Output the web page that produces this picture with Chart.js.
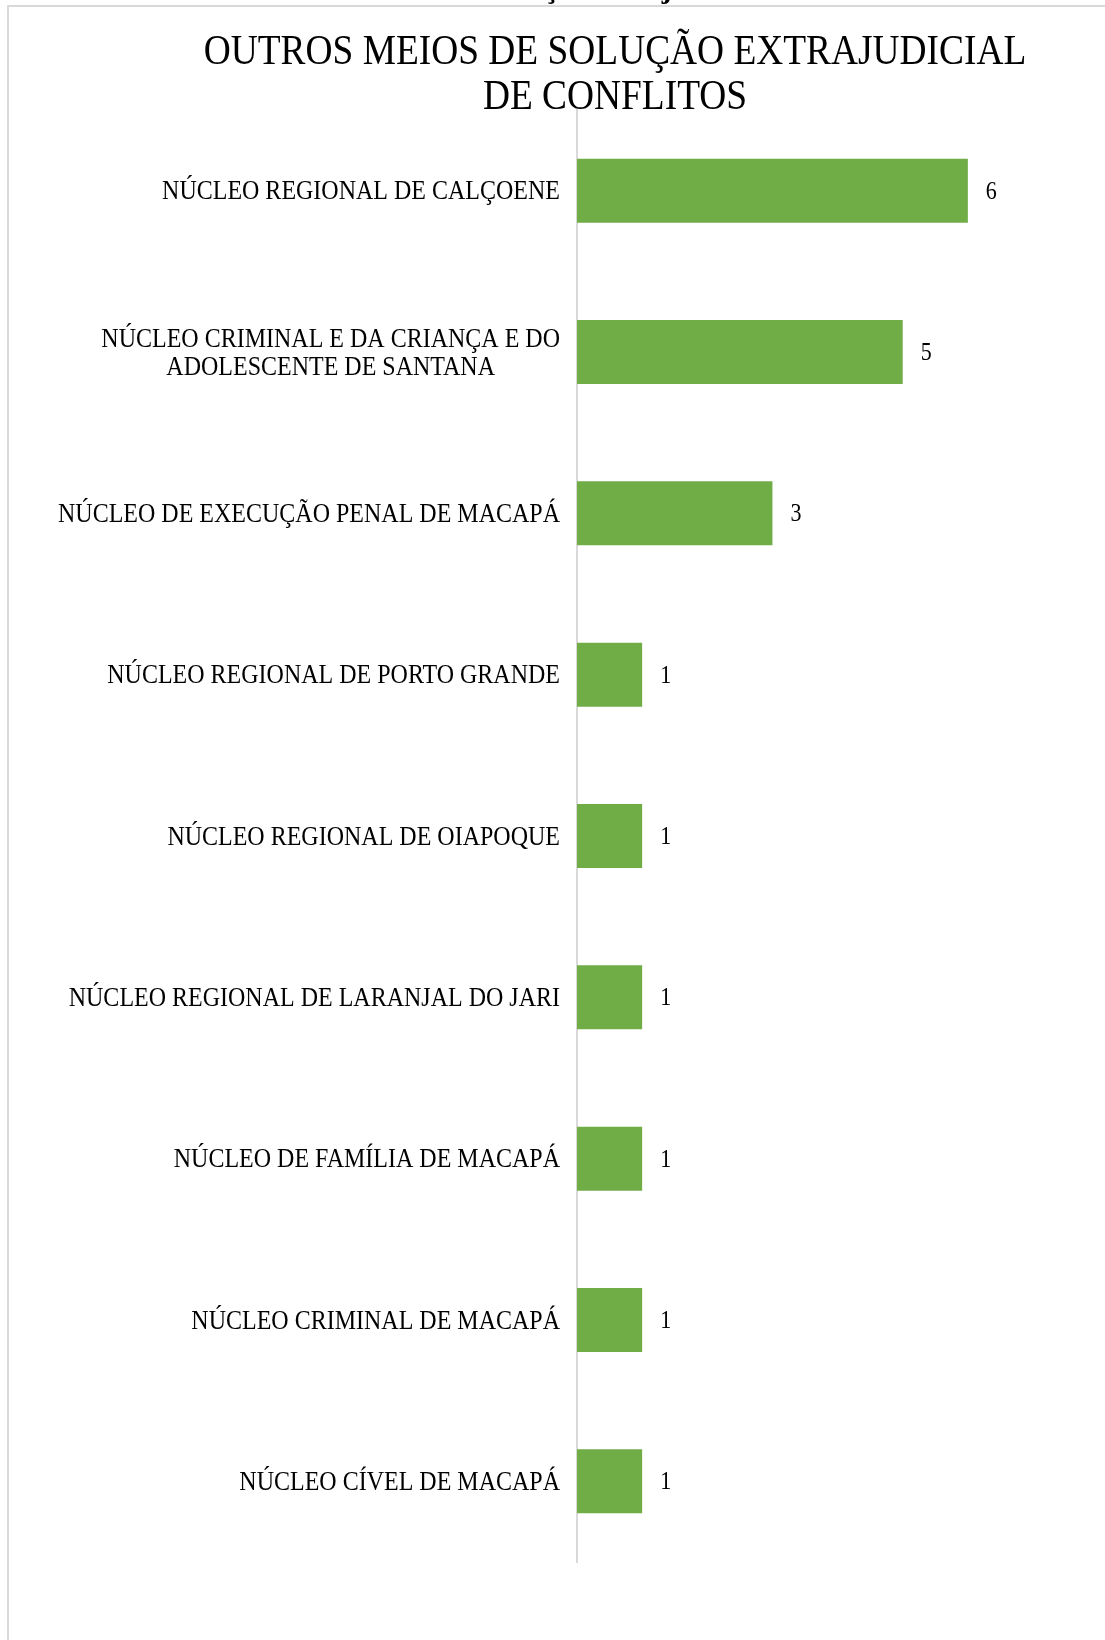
<!DOCTYPE html>
<html>
<head>
<meta charset="utf-8">
<script src="https://cdn.jsdelivr.net/npm/chart.js@4.4.1/dist/chart.umd.min.js"></script>
<style>
  html, body { margin: 0; padding: 0; background: #fff; }
  #wrap { width: 1105px; height: 1640px; }
</style>
</head>
<body>
<div id="wrap"><canvas id="myChart"></canvas></div>
<script>
const titleLines = ['OUTROS MEIOS DE SOLUÇÃO EXTRAJUDICIAL', 'DE CONFLITOS'];
const categories = [
  ['NÚCLEO REGIONAL DE CALÇOENE'],
  ['NÚCLEO CRIMINAL E DA CRIANÇA E DO', 'ADOLESCENTE DE SANTANA'],
  ['NÚCLEO DE EXECUÇÃO PENAL DE MACAPÁ'],
  ['NÚCLEO REGIONAL DE PORTO GRANDE'],
  ['NÚCLEO REGIONAL DE OIAPOQUE'],
  ['NÚCLEO REGIONAL DE LARANJAL DO JARI'],
  ['NÚCLEO DE FAMÍLIA DE MACAPÁ'],
  ['NÚCLEO CRIMINAL DE MACAPÁ'],
  ['NÚCLEO CÍVEL DE MACAPÁ']
];
const values = [6, 5, 3, 1, 1, 1, 1, 1, 1];
const xMax = 7;

// the source picture is a little stretched vertically
const SY = 1.13;
const serif = '"Liberation Serif", "Times New Roman", serif';

function drawText(ctx, text, x, y, size, align, weight) {
  ctx.save();
  ctx.translate(x, y);
  ctx.scale(1, SY);
  ctx.font = (weight || 'normal') + ' ' + size + 'px ' + serif;
  ctx.textAlign = align;
  ctx.textBaseline = 'alphabetic';
  ctx.fillStyle = '#000';
  ctx.fillText(text, 0, 0);
  ctx.restore();
}

const frame = {
  id: 'frame',
  beforeDraw(chart) {
    const ctx = chart.ctx;
    ctx.save();
    ctx.fillStyle = '#fff';
    ctx.fillRect(0, 0, chart.width, chart.height);
    // bottom of the previous heading, cut off by the page edge
    ctx.font = 'bold 30px ' + serif;
    const pre = ctx.measureText('solu').width + ctx.measureText('ç').width / 2;
    ctx.fillStyle = '#000';
    ctx.textBaseline = 'alphabetic';
    ctx.fillText('solução extrajudicial', 551 - pre, -2);
    ctx.strokeStyle = '#d9d9d9';
    ctx.lineWidth = 2;
    ctx.beginPath();
    ctx.moveTo(8, chart.height);
    ctx.lineTo(8, 6);
    ctx.lineTo(chart.width, 6);
    ctx.stroke();
    ctx.restore();
  }
};

const texts = {
  id: 'texts',
  afterDraw(chart) {
    const ctx = chart.ctx;
    const yScale = chart.scales.y;
    const area = chart.chartArea;

    // title
    const cx = 615;
    drawText(ctx, titleLines[0], cx, 64, 37.4, 'center');
    drawText(ctx, titleLines[1], cx, 109, 37.4, 'center');

    // category labels: block right-aligned, lines centred on each other
    ctx.font = '24px ' + serif;
    categories.forEach((lines, i) => {
      const y = yScale.getPixelForValue(i);
      const w = Math.max(...lines.map(l => ctx.measureText(l).width));
      const right = area.left - 17;
      lines.forEach((line, j) => {
        const by = y + 8.5 + (j - (lines.length - 1) / 2) * 28;
        drawText(ctx, line, right - w / 2, by, 24, 'center');
      });
    });

    // value labels
    const meta = chart.getDatasetMeta(0);
    meta.data.forEach((bar, i) => {
      drawText(ctx, String(values[i]), bar.x + 18, bar.y + 8, 22, 'left');
    });
  }
};

const ctx = document.getElementById('myChart').getContext('2d');

new Chart(ctx, {
  type: 'bar',
  data: {
    labels: categories,
    datasets: [{
      data: values,
      backgroundColor: '#70AD47',
      barPercentage: 0.397,
      categoryPercentage: 1
    }]
  },
  options: {
    indexAxis: 'y',
    responsive: true,
    maintainAspectRatio: false,
    animation: false,
    layout: { padding: { top: 110, bottom: 78, left: 0, right: 72 } },
    plugins: {
      legend: { display: false },
      tooltip: { enabled: false },
      title: { display: false }
    },
    scales: {
      x: { display: false, min: 0, max: xMax },
      y: {
        grid: { display: false },
        border: { display: true, color: '#d9d9d9', width: 2 },
        ticks: { display: false },
        afterFit: s => { s.width = 577; }
      }
    }
  },
  plugins: [frame, texts]
});
</script>
</body>
</html>
